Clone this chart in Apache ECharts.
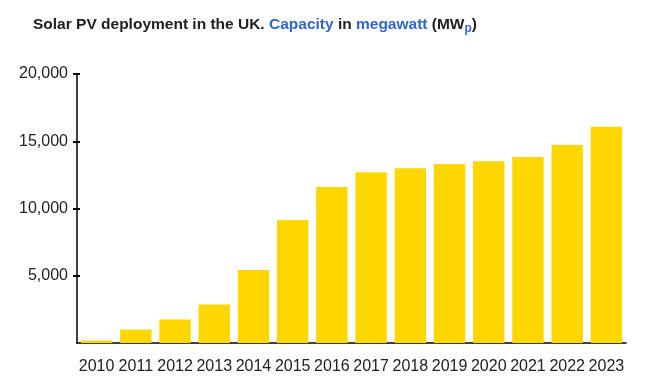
<!DOCTYPE html>
<html>
<head>
<meta charset="utf-8">
<script src="https://cdn.jsdelivr.net/npm/echarts@6/dist/echarts.min.js"></script>
<style>
html,body{margin:0;padding:0;background:#fff;}
#chart{width:650px;height:392px;}
</style>
</head>
<body>
<div id="chart"></div>
<script>
const years = ['2010','2011','2012','2013','2014','2015','2016','2017','2018','2019','2020','2021','2022','2023'];
const capacityMW = [180, 1000, 1750, 2870, 5420, 9150, 11600, 12700, 13000, 13300, 13520, 13820, 14730, 16070];
const yTicks = [5000, 10000, 15000, 20000];

const chart = echarts.init(document.getElementById('chart'), null, {renderer: 'canvas'});
const fontFam = 'Arial, "Liberation Sans", sans-serif';
const tickVals = yTicks;

chart.setOption({
  animation: false,
  backgroundColor: '#fff',
  title: {
    left: 28,
    top: 9,
    text: '{b|Solar PV deployment in the UK. }{l|Capacity}{b| in }{l|megawatt}{b| (MW}{s|p}{b|)}',
    textStyle: {
      fontFamily: fontFam,
      fontSize: 15.5,
      fontWeight: 'bold',
      rich: {
        b: {fontFamily: fontFam, fontSize: 15.5, fontWeight: 'bold', color: '#202122'},
        l: {fontFamily: fontFam, fontSize: 15.5, fontWeight: 'bold', color: '#3366cc'},
        s: {fontFamily: fontFam, fontSize: 12, fontWeight: 'bold', color: '#3366cc', padding: [9, 0, 0, 0]}
      }
    }
  },
  grid: {left: 77, right: 24, top: 74, bottom: 49, containLabel: false},
  xAxis: {
    type: 'category',
    data: years,
    axisLine: {lineStyle: {color: '#000', width: 1.5}},
    axisTick: {alignWithLabel: true, length: 9, lineStyle: {color: '#000', width: 1.5}},
    axisLabel: {fontFamily: fontFam, fontSize: 16, color: '#222', margin: 16, interval: 0}
  },
  yAxis: [{
    type: 'value',
    position: 'left',
    min: 0, max: 20000, interval: 5000,
    axisLine: {show: true, lineStyle: {color: '#000', width: 1.5}},
    axisTick: {show: true, length: 4, customValues: tickVals, lineStyle: {color: '#000', width: 2}},
    axisLabel: {fontFamily: fontFam, fontSize: 16, color: '#222', margin: 9, customValues: tickVals,
      formatter: v => v.toLocaleString('en-US')},
    splitLine: {show: false}
  }, {
    type: 'value',
    position: 'left',
    min: 0, max: 20000, interval: 5000,
    axisLine: {show: false},
    axisTick: {show: true, inside: true, length: 3, customValues: tickVals, lineStyle: {color: '#000', width: 2}},
    axisLabel: {show: false},
    splitLine: {show: false}
  }],
  series: [{
    type: 'bar',
    data: capacityMW,
    barCategoryGap: '20%',
    itemStyle: {color: '#FFD700'}
  }]
});
</script>
</body>
</html>
